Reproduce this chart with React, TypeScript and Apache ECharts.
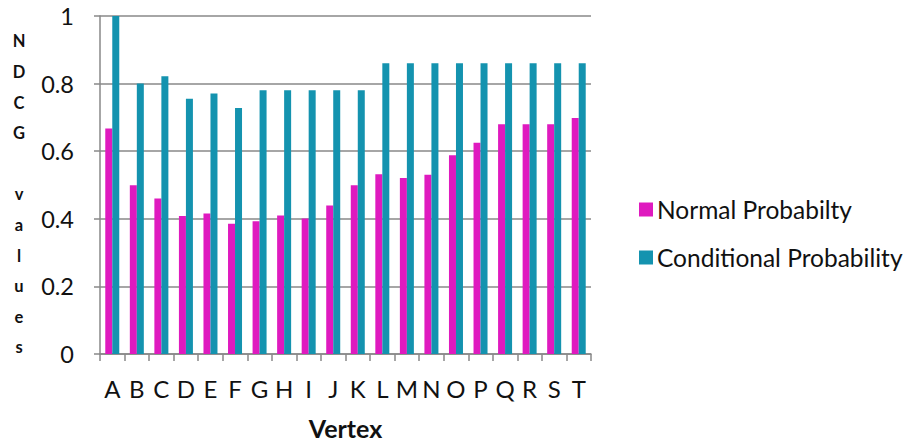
import React, { useEffect, useRef } from "react";
import * as echarts from "echarts";

// Vertices on the x axis
const vertices = ["A", "B", "C", "D", "E", "F", "G", "H", "I", "J", "K", "L", "M", "N", "O", "P", "Q", "R", "S", "T"];

// NDCG values per vertex
const normalProbability = [0.667, 0.499, 0.46, 0.408, 0.416, 0.385, 0.393, 0.41, 0.401, 0.439, 0.499, 0.532, 0.521, 0.53, 0.588, 0.625, 0.68, 0.68, 0.68, 0.698];
const conditionalProbability = [1.0, 0.8, 0.822, 0.755, 0.771, 0.728, 0.78, 0.78, 0.78, 0.78, 0.78, 0.86, 0.86, 0.86, 0.86, 0.86, 0.86, 0.86, 0.86, 0.86];

const seriesNames = ["Normal Probabilty", "Conditional Probability"];
const yAxisTitle = "NDCG values";

const FONT = "Lato, 'Open Sans', sans-serif";
const PINK = "#DF1ABF";
const TEAL = "#1493AF";
const GRID_GRAY = "#888888";

export default function App() {
  const ref = useRef<HTMLDivElement>(null);

  useEffect(() => {
    if (!ref.current) return;
    const chart = echarts.init(ref.current, undefined, { renderer: "svg" });

    // Vertical, letter-per-line axis title ("NDCG" / blank line / "values")
    const verticalTitle = yAxisTitle
      .split("")
      .map((ch) => (ch === " " ? "" : ch))
      .join("\n");

    chart.setOption({
      animation: false,
      backgroundColor: "#ffffff",
      textStyle: { fontFamily: FONT },
      grid: { left: 100, right: 317, top: 16, bottom: 88, containLabel: false },
      legend: {
        orient: "vertical",
        left: 634,
        top: 192,
        itemWidth: 14,
        itemHeight: 14,
        itemGap: 23,
        icon: "rect",
        textStyle: { fontFamily: FONT, fontSize: 24.5, color: "#111", lineHeight: 24, padding: [0, 0, 0, -1] },
        data: seriesNames,
      },
      graphic: [
        {
          type: "text",
          left: 11,
          top: 26,
          style: {
            text: verticalTitle,
            font: `bold 16.5px ${FONT}`,
            fill: "#111",
            lineHeight: 30.6,
            textAlign: "center",
            width: 16,
          },
        },
      ],
      xAxis: {
        type: "category",
        data: vertices,
        name: "Vertex",
        nameLocation: "middle",
        nameGap: 61,
        nameTextStyle: { fontFamily: FONT, fontSize: 25, fontWeight: "bold", color: "#111" },
        axisLine: { show: true, lineStyle: { color: GRID_GRAY, width: 1.5 } },
        axisTick: { show: true, length: 7, alignWithLabel: false, lineStyle: { color: GRID_GRAY, width: 1.5 } },
        axisLabel: { fontFamily: FONT, fontSize: 24, color: "#111", margin: 22, interval: 0 },
        splitLine: { show: false },
      },
      yAxis: {
        type: "value",
        min: 0,
        max: 1,
        interval: 0.2,
        axisLine: { show: true, lineStyle: { color: GRID_GRAY, width: 1.5 } },
        axisTick: { show: true, length: 6, lineStyle: { color: GRID_GRAY, width: 1.5 } },
        axisLabel: {
          fontFamily: FONT,
          fontSize: 23.5,
          color: "#111",
          margin: 26,
          formatter: (v: number) => (v === 0 || v === 1 ? String(v) : v.toFixed(1)),
        },
        splitLine: { show: true, lineStyle: { color: GRID_GRAY, width: 1.5 } },
      },
      series: [
        {
          name: seriesNames[0],
          type: "bar",
          data: normalProbability,
          barWidth: 7,
          barGap: "0%",
          itemStyle: { color: PINK },
        },
        {
          name: seriesNames[1],
          type: "bar",
          data: conditionalProbability,
          barWidth: 7,
          barGap: "0%",
          itemStyle: { color: TEAL },
        },
      ],
    });

    return () => chart.dispose();
  }, []);

  return <div ref={ref} style={{ width: 908, height: 445, position: "absolute", left: 0, top: 0 }} />;
}
